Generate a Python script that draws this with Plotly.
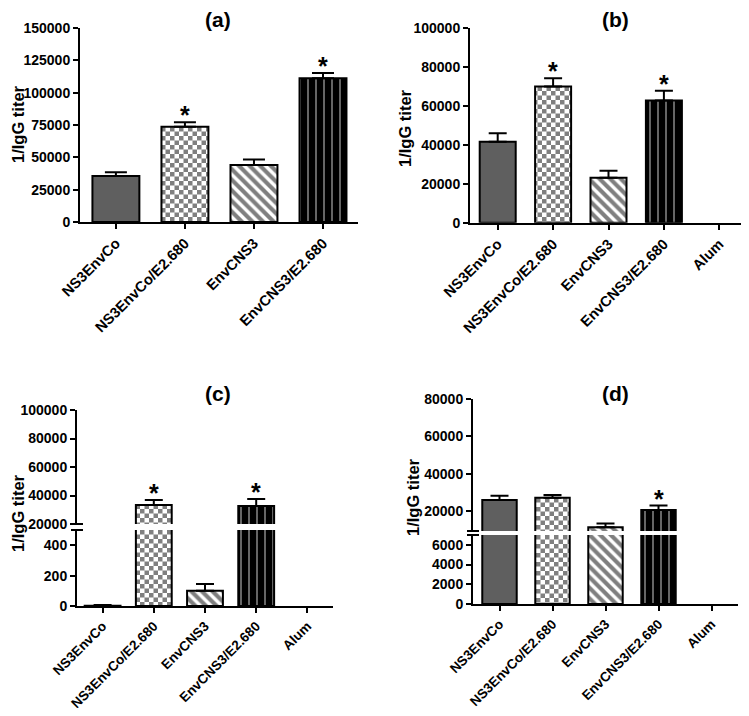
import plotly.graph_objects as go

# page is 749x716; the html body has an 8px margin, so the figure is placed at (8, 8)
PAGE_W, PAGE_H = 749, 716
OFF = 8
W, H = PAGE_W - OFF, PAGE_H - 2 * OFF

# ---------------- data ----------------
categories_a = ["NS3EnvCo", "NS3EnvCo/E2.680", "EnvCNS3", "EnvCNS3/E2.680"]
categories = ["NS3EnvCo", "NS3EnvCo/E2.680", "EnvCNS3", "EnvCNS3/E2.680", "Alum"]

values_a = [35500, 73600, 44000, 111200]
errors_a = [2900, 3600, 4400, 4100]
signif_a = [False, True, False, True]

values_b = [41600, 69900, 23100, 62700, 0]
errors_b = [4300, 4300, 3600, 5100, 0]
signif_b = [False, True, False, True, False]

values_c = [2, 33300, 100, 32600, 0]
errors_c = [4, 3500, 44, 4900, 0]
signif_c = [False, True, False, True, False]

values_d = [25900, 27100, 11300, 20500, 0]
errors_d = [2300, 1500, 2000, 2400, 0]
signif_d = [False, False, False, True, False]

ticks_a = [0, 25000, 50000, 75000, 100000, 125000, 150000]
ticks_b = [0, 20000, 40000, 60000, 80000, 100000]
ticks_c_low = [0, 200, 400]
ticks_c_up = [20000, 40000, 60000, 80000, 100000]
ticks_d_low = [0, 2000, 4000, 6000]
ticks_d_up = [20000, 40000, 60000, 80000]

# ---------------- helpers ----------------
FONT = "Liberation Sans, Arial, Helvetica, sans-serif"


def fx(px):
    return (px - OFF) / W


def fy(py):
    return 1 - (py - OFF) / H


CHECK = "M0,0H4.5V4.5H0Z M4.5,4.5H9V9H4.5Z"
try:
    go.bar.marker.Pattern(path=CHECK)
    HAS_PATH = True
except Exception:
    HAS_PATH = False


def style(i):
    ln = dict(color="black", width=2)
    if i == 0:
        return dict(color="#5f5f5f", line=ln)
    if i == 1:
        if HAS_PATH:
            pat = dict(path=CHECK, fgcolor="black", bgcolor="white", size=9, solidity=1)
        else:
            pat = dict(shape="+", fgcolor="black", bgcolor="white", size=8, solidity=0.5)
        return dict(color="white", line=ln, pattern=pat)
    if i == 2:
        return dict(color="white", line=ln,
                    pattern=dict(shape="\\", fgcolor="black", bgcolor="white", size=7.5, solidity=0.55))
    if i == 3:
        return dict(color="black", line=ln,
                    pattern=dict(shape="|", fgcolor="white", bgcolor="black", size=8, solidity=0.2))
    return dict(color="white", line=dict(color="black", width=0))


fig = go.Figure()


def add_panel(cats, vals, errs, xa, ya, width, capw):
    for i, c in enumerate(cats):
        fig.add_trace(go.Bar(
            x=[c], y=[vals[i]], width=width, xaxis=xa, yaxis=ya,
            marker=style(i),
            error_y=dict(type="data", array=[errs[i]], arrayminus=[0], symmetric=False,
                         color="black", thickness=2, width=capw, visible=errs[i] > 0),
            showlegend=False, hoverinfo="skip"))


add_panel(categories_a, values_a, errors_a, "x", "y", 0.68, 11)
add_panel(categories, values_b, errors_b, "x2", "y2", 0.65, 9)
add_panel(categories, values_c, errors_c, "x3", "y3", 0.70, 9)
add_panel(categories, values_c, errors_c, "x3", "y4", 0.70, 9)
add_panel(categories, values_d, errors_d, "x4", "y5", 0.65, 9)
add_panel(categories, values_d, errors_d, "x4", "y6", 0.65, 9)

tickfont = dict(family=FONT, size=14, color="black")
xtickfont_top = dict(family=FONT, size=14.7, color="black")
xtickfont_bottom = dict(family=FONT, size=13.5, color="black")

common_axis = dict(showline=True, linecolor="black", linewidth=2, ticks="outside",
                   ticklen=5, tickwidth=2, tickcolor="black", showgrid=False,
                   zeroline=False, fixedrange=True, automargin=False)


def xax(dom, anchor, cats, rng, font):
    return dict(common_axis, domain=[fx(dom[0]), fx(dom[1])], anchor=anchor, type="category",
                categoryorder="array", categoryarray=cats, range=rng, tickangle=-45,
                tickvals=cats, ticktext=["<b>%s</b>" % c for c in cats],
                tickfont=font)


def yax(dom, anchor, rng, tv):
    return dict(common_axis, domain=[fy(dom[1]), fy(dom[0])], anchor=anchor, range=rng,
                tickvals=tv, ticktext=["<b>%d</b>" % v for v in tv], tickfont=tickfont)


fig.update_layout(
    width=W, height=H, margin=dict(l=0, r=0, t=0, b=0, pad=0, autoexpand=False),
    paper_bgcolor="white", plot_bgcolor="white", barmode="overlay",
    font=dict(family=FONT, color="black"),
    xaxis=xax((80, 358), "y", categories_a, [-0.52, 3.507], xtickfont_top),
    yaxis=yax((28, 222), "x", [0, 150000], ticks_a),
    xaxis2=xax((470, 747), "y2", categories, [-0.5, 4.5], xtickfont_top),
    yaxis2=yax((28, 222.7), "x2", [0, 100000], ticks_b),
    xaxis3=xax((77, 333), "y3", categories, [-0.5, 4.5], xtickfont_bottom),
    yaxis3=yax((530, 606), "x3", [0, 500], ticks_c_low),
    yaxis4=yax((410, 524), "x3", [20000, 100000], ticks_c_up),
    xaxis4=xax((473, 738), "y5", categories, [-0.5, 4.5], xtickfont_bottom),
    yaxis5=yax((535, 604), "x4", [0, 7000], ticks_d_low),
    yaxis6=yax((399, 531), "x4", [9300, 80000], ticks_d_up),
)

ann = []
# panel titles
for t, px, py in [("(a)", 218, 20), ("(b)", 615, 20), ("(c)", 218, 393), ("(d)", 615, 393)]:
    ann.append(dict(text="<b>%s</b>" % t, x=fx(px), y=fy(py), xref="paper", yref="paper",
                    showarrow=False, xanchor="center", yanchor="middle",
                    font=dict(family=FONT, size=21, color="black")))
# y-axis titles
for px, py in [(18, 124), (405, 128), (18, 513), (413, 497)]:
    ann.append(dict(text="<b>1/IgG titer</b>", x=fx(px), y=fy(py), xref="paper", yref="paper",
                    showarrow=False, textangle=-90, xanchor="center", yanchor="middle",
                    font=dict(family=FONT, size=16.5, color="black")))


# significance stars
def stars(cats, vals, errs, sig, xr, yr_fn):
    for i, c in enumerate(cats):
        if sig[i]:
            top = vals[i] + errs[i]
            ann.append(dict(text="<b>*</b>", x=c, y=top, xref=xr, yref=yr_fn(top), showarrow=False,
                            xanchor="center", yanchor="bottom", yshift=-9,
                            font=dict(family=FONT, size=25, color="black")))


stars(categories_a, values_a, errors_a, signif_a, "x", lambda v: "y")
stars(categories, values_b, errors_b, signif_b, "x2", lambda v: "y2")
stars(categories, values_c, errors_c, signif_c, "x3", lambda v: "y4" if v > 500 else "y3")
stars(categories, values_d, errors_d, signif_d, "x4", lambda v: "y6" if v > 7000 else "y5")

fig.update_layout(annotations=ann)

# axis-break marks
shapes = []
for axis_px, ys in [(77, (524, 530)), (473, (531, 535))]:
    for yy in ys:
        shapes.append(dict(type="line", xref="paper", yref="paper",
                           x0=fx(axis_px - 6), x1=fx(axis_px + 6), y0=fy(yy), y1=fy(yy),
                           line=dict(color="black", width=2)))
fig.update_layout(shapes=shapes)

fig.write_html("out.html")
